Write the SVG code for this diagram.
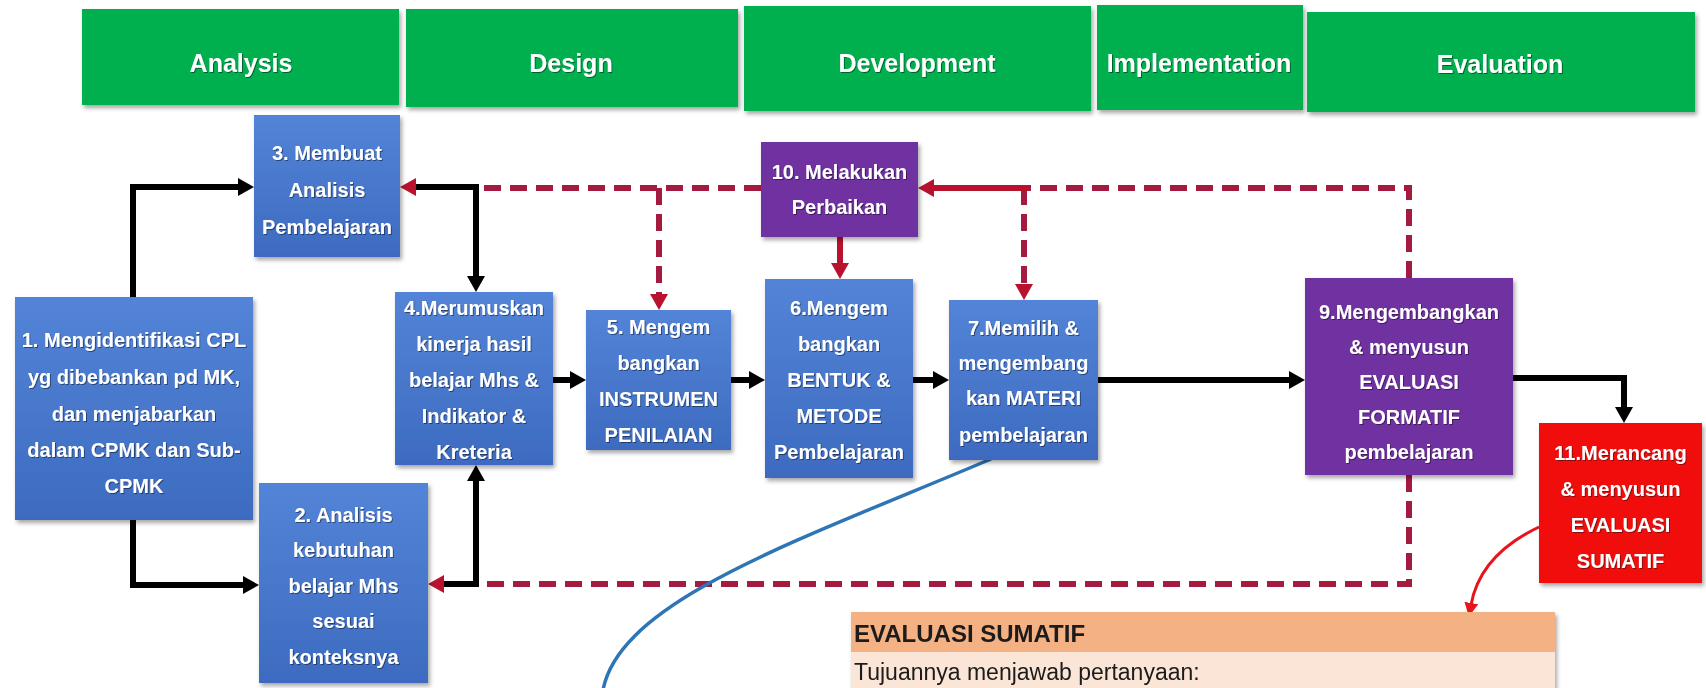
<svg xmlns="http://www.w3.org/2000/svg" width="1706" height="688" viewBox="0 0 1706 688">
<defs>
<style>
.hdr{fill:#00B050}
.htx{font-family:"Liberation Sans",Arial,sans-serif;font-weight:bold;font-size:25px;fill:#FFFFFF;text-anchor:middle}
.ntx{font-family:"Liberation Sans",Arial,sans-serif;font-weight:bold;font-size:20px;fill:#FFFFFF;text-anchor:middle}
.blue{fill:url(#gBlue)}
.purple{fill:#7030A0}
.red{fill:#F20F0F}
.blk{fill:none;stroke:#000000;stroke-width:6}
.dash{fill:none;stroke:#A51A3F;stroke-width:6;stroke-dasharray:17 9}
.rsol{fill:none;stroke:#B8122E;stroke-width:6}
</style>
<linearGradient id="gBlue" x1="0" y1="0" x2="0" y2="1">
<stop offset="0" stop-color="#5384D7"/>
<stop offset="1" stop-color="#3D6BC0"/>
</linearGradient>
<filter id="sh" x="-10%" y="-10%" width="125%" height="130%">
<feDropShadow dx="2" dy="3" stdDeviation="2" flood-color="#000" flood-opacity="0.35"/>
</filter>
<filter id="tsh" x="-5%" y="-20%" width="115%" height="150%">
<feDropShadow dx="1" dy="1" stdDeviation="0.6" flood-color="#000" flood-opacity="0.45"/>
</filter>
<marker id="aBlk" viewBox="0 0 16 18" refX="2" refY="9" markerWidth="16" markerHeight="18" markerUnits="userSpaceOnUse" orient="auto">
<path d="M0 0 L16 9 L0 18 Z" fill="#000000"/>
</marker>
<marker id="aRed" viewBox="0 0 16 18" refX="2" refY="9" markerWidth="16" markerHeight="18" markerUnits="userSpaceOnUse" orient="auto">
<path d="M0 0 L16 9 L0 18 Z" fill="#B8122E"/>
</marker>
<marker id="aRedS" viewBox="0 0 14 14" refX="2" refY="7" markerWidth="14" markerHeight="14" markerUnits="userSpaceOnUse" orient="auto">
<path d="M0 0 L14 7 L0 14 Z" fill="#E8141A"/>
</marker>
</defs>
<rect width="1706" height="688" fill="#FFFFFF"/>

<g id="headers">
<g id="h-analysis"><rect class="hdr" x="82" y="9" width="317" height="96" filter="url(#sh)"/><text class="htx" x="241" y="72" filter="url(#tsh)">Analysis</text></g>
<g id="h-design"><rect class="hdr" x="406" y="9" width="332" height="98" filter="url(#sh)"/><text class="htx" x="571" y="72" filter="url(#tsh)">Design</text></g>
<g id="h-development"><rect class="hdr" x="744" y="6" width="347" height="105" filter="url(#sh)"/><text class="htx" x="917" y="72" filter="url(#tsh)">Development</text></g>
<g id="h-implementation"><rect class="hdr" x="1097" y="5" width="206" height="105" filter="url(#sh)"/><text class="htx" x="1199" y="72" filter="url(#tsh)">Implementation</text></g>
<g id="h-evaluation"><rect class="hdr" x="1307" y="12" width="388" height="100" filter="url(#sh)"/><text class="htx" x="1500" y="73" filter="url(#tsh)">Evaluation</text></g>
</g>

<g id="connectors">
<path class="dash" d="M761 188 H476"/>
<path class="dash" d="M1409 278 V188 H1024"/>
<path class="dash" d="M1409 475 V584 H482"/>
<path class="dash" d="M659 188 V296" marker-end="url(#aRed)"/>
<path class="dash" d="M1024 188 V286" marker-end="url(#aRed)"/>
<path class="rsol" d="M1027 188 H932" marker-end="url(#aRed)"/>
<path class="rsol" d="M840 237 V265" marker-end="url(#aRed)"/>
<path class="blk" d="M133 297 V187 H240" marker-end="url(#aBlk)"/>
<path class="blk" d="M133 520 V585 H245" marker-end="url(#aBlk)"/>
<path class="blk" d="M479 187 H414" marker-end="url(#aRed)"/>
<path class="blk" d="M476 184 V278" marker-end="url(#aBlk)"/>
<path class="blk" d="M479 584 H442" marker-end="url(#aRed)"/>
<path class="blk" d="M476 587 V479" marker-end="url(#aBlk)"/>
<path class="blk" d="M553 380 H572" marker-end="url(#aBlk)"/>
<path class="blk" d="M731 380 H751" marker-end="url(#aBlk)"/>
<path class="blk" d="M913 380 H935" marker-end="url(#aBlk)"/>
<path class="blk" d="M1098 380 H1291" marker-end="url(#aBlk)"/>
<path class="blk" d="M1513 378 H1624 V409" marker-end="url(#aBlk)"/>
<path d="M1539 527 Q1480 555 1471 605" fill="none" stroke="#E8141A" stroke-width="3" marker-end="url(#aRedS)"/>
<path d="M991 459 C800 540 620 600 603 690" fill="none" stroke="#2E75B6" stroke-width="3.5"/>
</g>

<g id="n1" filter="url(#sh)"><rect class="blue" x="15" y="297" width="238" height="223"/>
<g filter="url(#tsh)"><text class="ntx" x="134" y="347">1. Mengidentifikasi CPL</text><text class="ntx" x="134" y="384">yg dibebankan pd MK,</text><text class="ntx" x="134" y="421">dan menjabarkan</text><text class="ntx" x="134" y="457">dalam CPMK dan Sub-</text><text class="ntx" x="134" y="493">CPMK</text></g></g>

<g id="n3" filter="url(#sh)"><rect class="blue" x="254" y="115" width="146" height="142"/>
<g filter="url(#tsh)"><text class="ntx" x="327" y="160">3. Membuat</text><text class="ntx" x="327" y="197">Analisis</text><text class="ntx" x="327" y="234">Pembelajaran</text></g></g>

<g id="n2" filter="url(#sh)"><rect class="blue" x="259" y="483" width="169" height="200"/>
<g filter="url(#tsh)"><text class="ntx" x="343.5" y="522">2. Analisis</text><text class="ntx" x="343.5" y="557">kebutuhan</text><text class="ntx" x="343.5" y="593">belajar Mhs</text><text class="ntx" x="343.5" y="628">sesuai</text><text class="ntx" x="343.5" y="664">konteksnya</text></g></g>

<g id="n4" filter="url(#sh)"><rect class="blue" x="395" y="292" width="158" height="173"/>
<g filter="url(#tsh)"><text class="ntx" x="474" y="315">4.Merumuskan</text><text class="ntx" x="474" y="351">kinerja hasil</text><text class="ntx" x="474" y="387">belajar Mhs &amp;</text><text class="ntx" x="474" y="423">Indikator &amp;</text><text class="ntx" x="474" y="459">Kreteria</text></g></g>

<g id="n5" filter="url(#sh)"><rect class="blue" x="586" y="310" width="145" height="140"/>
<g filter="url(#tsh)"><text class="ntx" x="658.5" y="334">5. Mengem</text><text class="ntx" x="658.5" y="370">bangkan</text><text class="ntx" x="658.5" y="406">INSTRUMEN</text><text class="ntx" x="658.5" y="442">PENILAIAN</text></g></g>

<g id="n6" filter="url(#sh)"><rect class="blue" x="765" y="279" width="148" height="199"/>
<g filter="url(#tsh)"><text class="ntx" x="839" y="315">6.Mengem</text><text class="ntx" x="839" y="351">bangkan</text><text class="ntx" x="839" y="387">BENTUK &amp;</text><text class="ntx" x="839" y="423">METODE</text><text class="ntx" x="839" y="459">Pembelajaran</text></g></g>

<g id="n7" filter="url(#sh)"><rect class="blue" x="949" y="300" width="149" height="160"/>
<g filter="url(#tsh)"><text class="ntx" x="1023.5" y="335">7.Memilih &amp;</text><text class="ntx" x="1023.5" y="370">mengembang</text><text class="ntx" x="1023.5" y="405">kan MATERI</text><text class="ntx" x="1023.5" y="442">pembelajaran</text></g></g>

<g id="n10" filter="url(#sh)"><rect class="purple" x="761" y="142" width="157" height="95"/>
<g filter="url(#tsh)"><text class="ntx" x="839.5" y="179">10. Melakukan</text><text class="ntx" x="839.5" y="214">Perbaikan</text></g></g>

<g id="n9" filter="url(#sh)"><rect class="purple" x="1305" y="278" width="208" height="197"/>
<g filter="url(#tsh)"><text class="ntx" x="1409" y="319">9.Mengembangkan</text><text class="ntx" x="1409" y="354">&amp; menyusun</text><text class="ntx" x="1409" y="389">EVALUASI</text><text class="ntx" x="1409" y="424">FORMATIF</text><text class="ntx" x="1409" y="459">pembelajaran</text></g></g>

<g id="n11" filter="url(#sh)"><rect class="red" x="1539" y="423" width="163" height="160"/>
<g filter="url(#tsh)"><text class="ntx" x="1620.5" y="460">11.Merancang</text><text class="ntx" x="1620.5" y="496">&amp; menyusun</text><text class="ntx" x="1620.5" y="532">EVALUASI</text><text class="ntx" x="1620.5" y="568">SUMATIF</text></g></g>

<g id="sumatif" filter="url(#sh)">
<rect x="851" y="612" width="704" height="40" fill="#F4B183"/>
<rect x="851" y="652" width="704" height="40" fill="#FBE5D6"/>
<text x="854" y="642" font-family="'Liberation Sans',Arial,sans-serif" font-weight="bold" font-size="24" fill="#1A1A1A">EVALUASI SUMATIF</text>
<text x="854" y="680" font-family="'Liberation Sans',Arial,sans-serif" font-size="23" fill="#1A1A1A">Tujuannya menjawab pertanyaan:</text>
</g>
</svg>
